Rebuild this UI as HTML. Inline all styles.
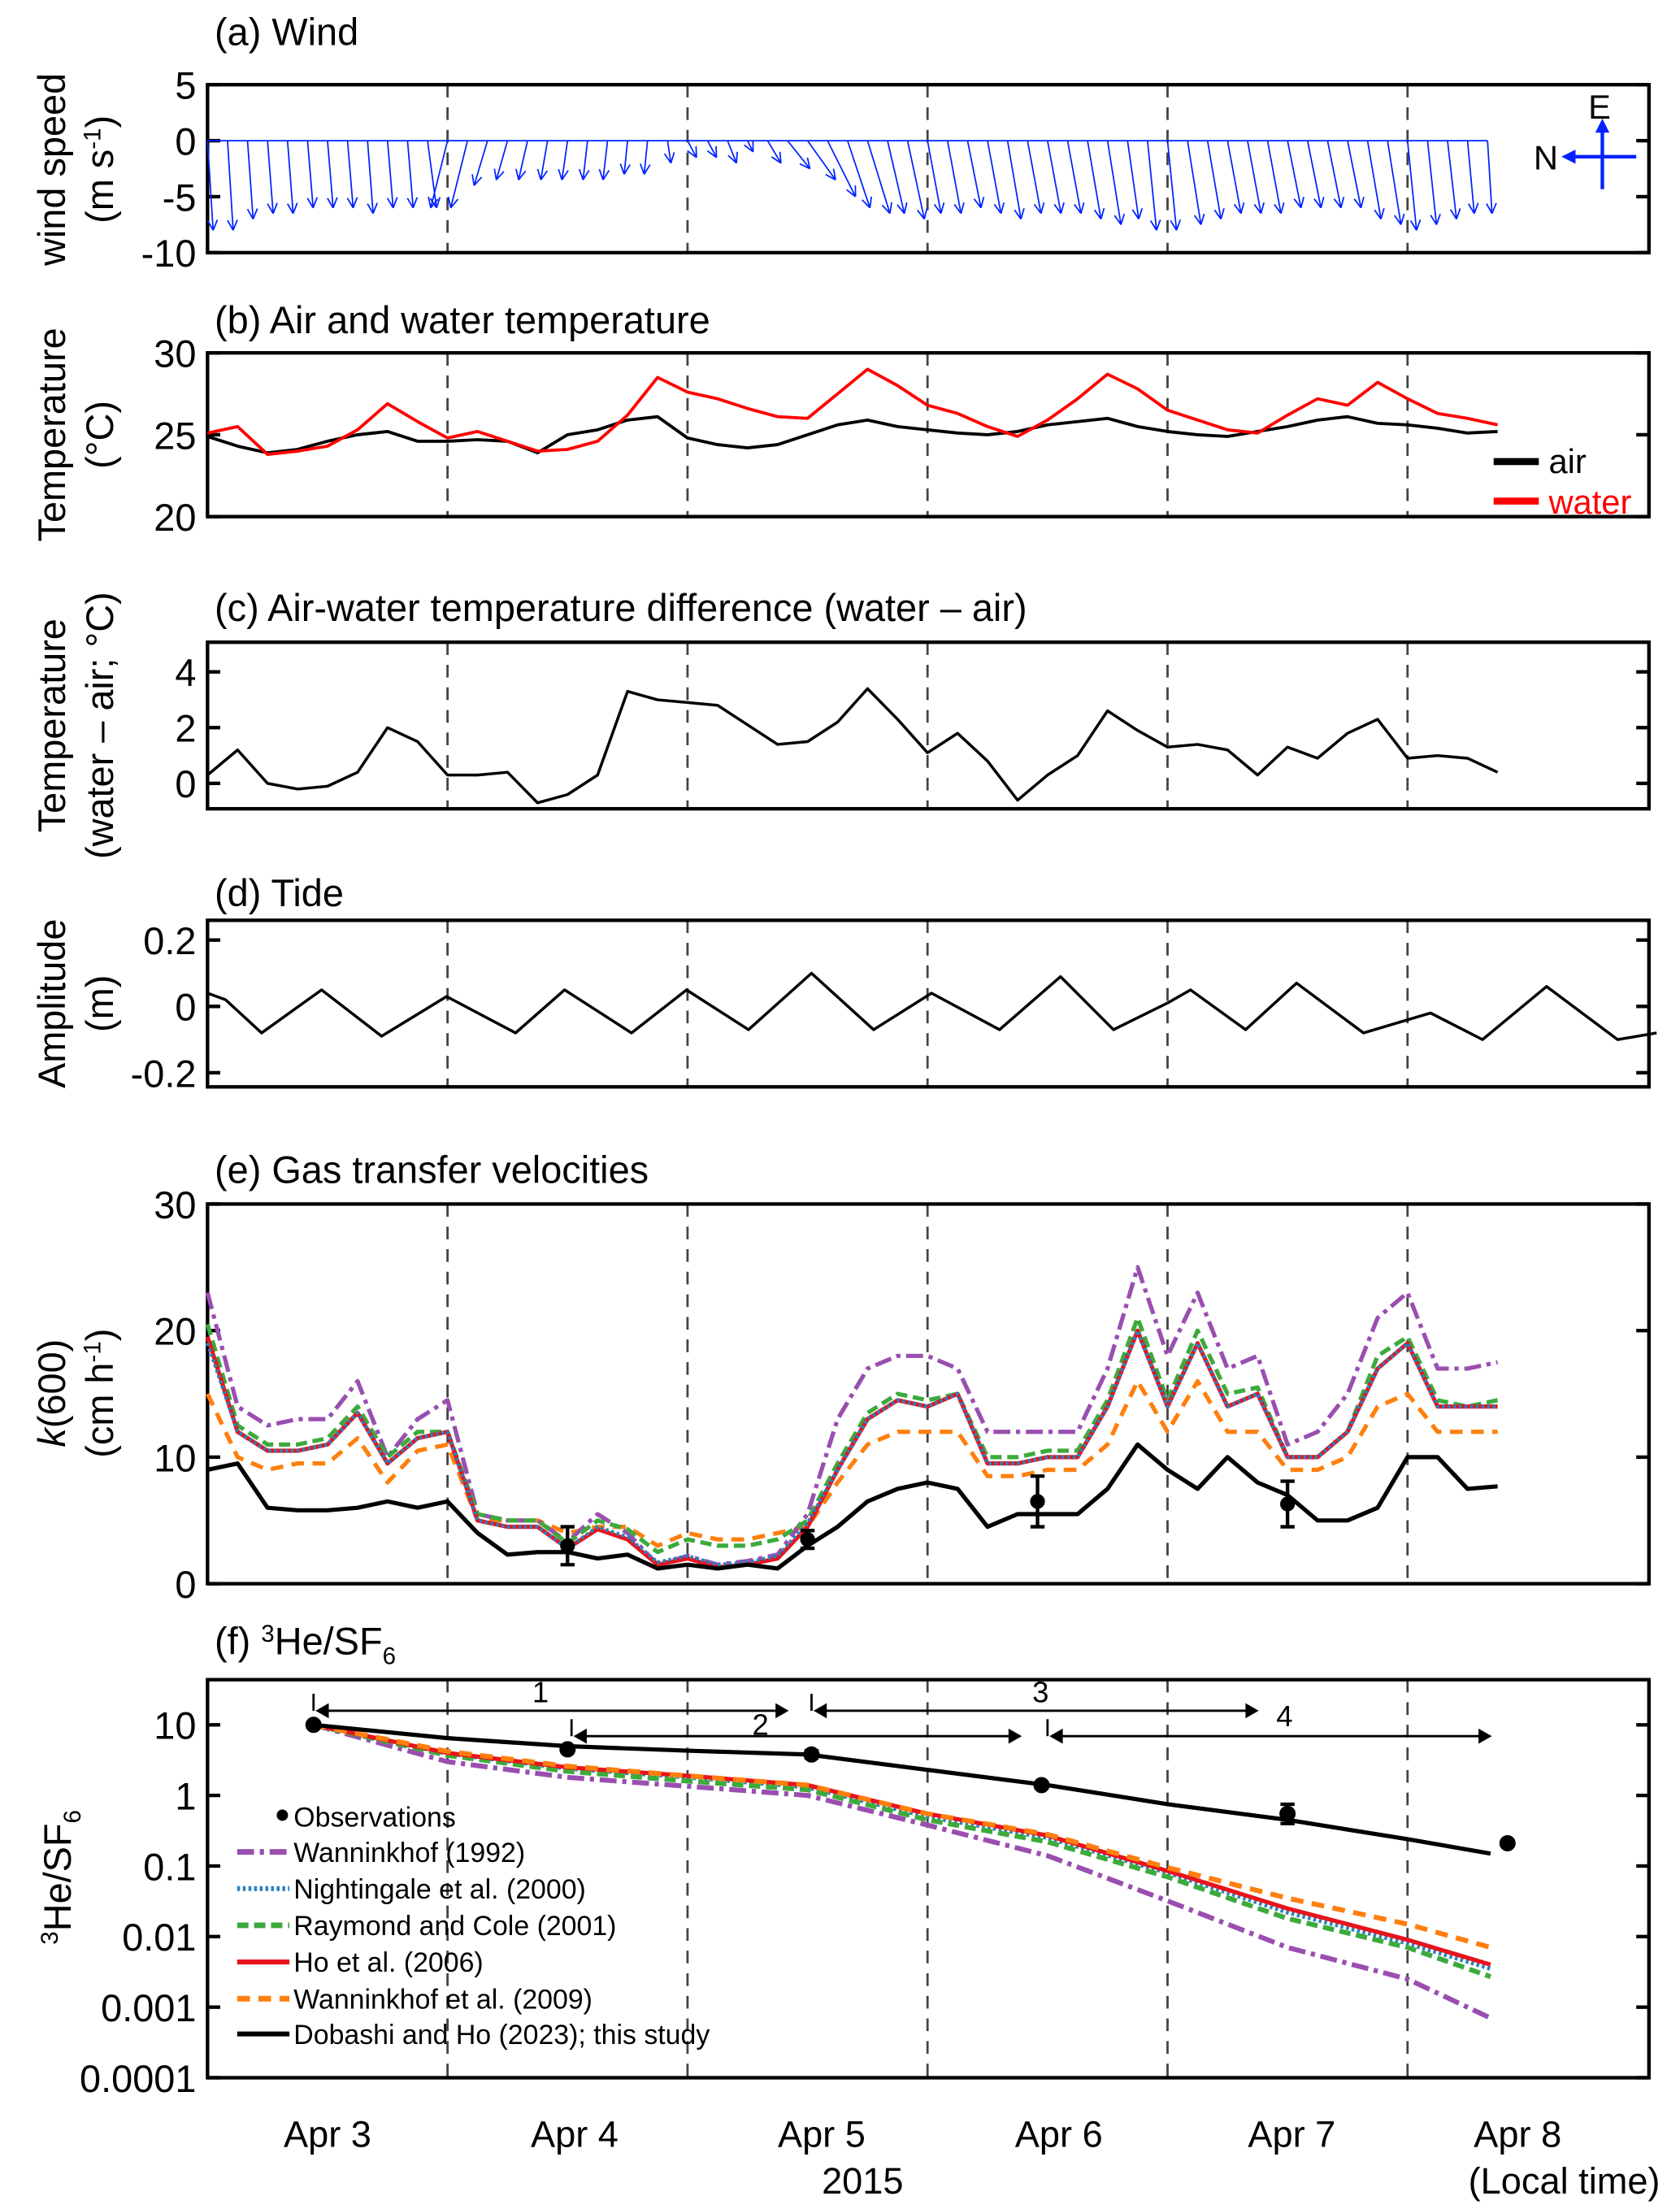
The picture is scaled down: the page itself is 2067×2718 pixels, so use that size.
<!DOCTYPE html>
<html><head><meta charset="utf-8"><style>
html,body{margin:0;padding:0;background:#fff}
svg{display:block}
text{font-family:"Liberation Sans",sans-serif;fill:#000}
</style></head><body>
<svg id="fig" width="2067" height="2718" viewBox="0 0 1190 1565" preserveAspectRatio="none" xmlns="http://www.w3.org/2000/svg">
<g id="static">
  <text x="152" y="32" font-size="27">(a) Wind</text>
  <text x="152" y="236" font-size="27">(b) Air and water temperature</text>
  <text x="152" y="440" font-size="27">(c) Air-water temperature difference (water – air)</text>
  <text x="152" y="642" font-size="27">(d) Tide</text>
  <text x="152" y="838" font-size="27">(e) Gas transfer velocities</text>
  <text x="152" y="1172" font-size="27">(f) <tspan font-size="17" dy="-9">3</tspan><tspan dy="9">He/SF</tspan><tspan font-size="17" dy="7">6</tspan></text>

  <text transform="translate(46,120) rotate(-90)" text-anchor="middle" font-size="27">wind speed</text>
  <text transform="translate(80,120) rotate(-90)" text-anchor="middle" font-size="27">(m s<tspan font-size="17" dy="-9">-1</tspan><tspan dy="9">)</tspan></text>
  <text transform="translate(46,308) rotate(-90)" text-anchor="middle" font-size="27">Temperature</text>
  <text transform="translate(80,308) rotate(-90)" text-anchor="middle" font-size="27">(°C)</text>
  <text transform="translate(46,514) rotate(-90)" text-anchor="middle" font-size="27">Temperature</text>
  <text transform="translate(80,514) rotate(-90)" text-anchor="middle" font-size="27">(water – air; °C)</text>
  <text transform="translate(46,711) rotate(-90)" text-anchor="middle" font-size="27">Amplitude</text>
  <text transform="translate(80,711) rotate(-90)" text-anchor="middle" font-size="27">(m)</text>
  <text transform="translate(46,987) rotate(-90)" text-anchor="middle" font-size="27"><tspan font-style="italic">k</tspan>(600)</text>
  <text transform="translate(80,987) rotate(-90)" text-anchor="middle" font-size="27">(cm h<tspan font-size="17" dy="-9">-1</tspan><tspan dy="9">)</tspan></text>
  <text transform="translate(50,1330) rotate(-90)" text-anchor="middle" font-size="27"><tspan font-size="17" dy="-9">3</tspan><tspan dy="9">He/SF</tspan><tspan font-size="17" dy="7">6</tspan></text>

  <text x="232" y="1521" font-size="26" text-anchor="middle">Apr 3</text>
  <text x="407" y="1521" font-size="26" text-anchor="middle">Apr 4</text>
  <text x="582" y="1521" font-size="26" text-anchor="middle">Apr 5</text>
  <text x="750" y="1521" font-size="26" text-anchor="middle">Apr 6</text>
  <text x="915" y="1521" font-size="26" text-anchor="middle">Apr 7</text>
  <text x="1075" y="1521" font-size="26" text-anchor="middle">Apr 8</text>
  <text x="611" y="1554" font-size="26" text-anchor="middle">2015</text>
  <text x="1108" y="1554" font-size="26" text-anchor="middle">(Local time)</text>

  <g stroke="#0022ff" stroke-width="2.5" fill="none">
    <line x1="1159" y1="111" x2="1112" y2="111"/>
    <line x1="1135" y1="134" x2="1135" y2="90"/>
  </g>
  <polygon points="1106,111 1116,106 1116,116" fill="#0022ff"/>
  <polygon points="1135,84 1130,94 1140,94" fill="#0022ff"/>
  <text x="1133" y="84" font-size="24" text-anchor="middle">E</text>
  <text x="1095" y="120" font-size="24" text-anchor="middle">N</text>

  <line x1="1058" y1="327" x2="1090" y2="327" stroke="#000" stroke-width="5"/>
  <text x="1097" y="335" font-size="24">air</text>
  <line x1="1058" y1="355" x2="1090" y2="355" stroke="#f00" stroke-width="5"/>
  <text x="1097" y="364" font-size="24" fill="#f00" style="fill:#f00">water</text>
</g>
<g id="dyn"></g>
</svg>
<script>
// ---------- data ----------
const windHours = [0,2,4,6,8,10,12,14,16,18,20,22,24,26,28,30,32,34,36,38,40,42,44,46,48,50,52,54,56,58,60,62,64,66,68,70,72,74,76,78,80,82,84,86,88,90,92,94,96,98,100,102,104,106,108,110,112,114,116,118,120,122,124,126,128];
const windV = [-8,-8,-7,-6.5,-6.5,-6,-6,-6,-6.5,-6,-6,-6, -6,-6,-4,-3.5,-3.5,-3.5,-3.5,-3.5,-3.5,-3,-3,-2, -1.5,-1.5,-2,-1,-2,-2.5,-3.5,-5,-6,-6.5,-6.5,-7, -6.5,-6.5,-6,-6.5,-7,-6.5,-6.5,-6.5,-7,-7.5,-7,-8, -8,-7.5,-7,-6.5,-6.5,-6.5,-6,-6,-6,-6,-7,-7.5, -8,-7.5,-7,-6.5,-6.5];
const windU = [0.5,0.5,0.5,0.5,0.5,0.5,0.5,0.5,0.5,0.5,0.5,0.8, -1.5,-1.5,-1.2,-1,-0.8,-0.6,-0.5,-0.4,-0.4,-0.3,-0.3,0.3, 0.8,0.8,0.8,0.5,1.2,2,2.5,2.5,2,2,1.5,1.5, 1.2,1.2,1.2,1.2,1.2,1.2,1.2,1.2,1.2,1.2,1,0.8, 0.8,1.2,1.2,1.2,1.2,1.2,1.2,1.2,1.2,1.2,1.2,1.2, 0.8,0.8,0.8,0.6,0.4];

const hours3 = [0,3,6,9,12,15,18,21,24,27,30,33,36,39,42,45,48,51,54,57,60,63,66,69,72,75,78,81,84,87,90,93,96,99,102,105,108,111,114,117,120,123,126,129];
const waterT = [25.1,25.5,23.8,24.0,24.3,25.3,26.9,25.8,24.8,25.2,24.6,24.0,24.1,24.6,26.2,28.5,27.6,27.2,26.6,26.1,26.0,27.5,29.0,28.0,26.8,26.3,25.5,24.9,25.9,27.2,28.7,27.8,26.5,25.9,25.3,25.1,26.2,27.2,26.8,28.2,27.2,26.3,26.0,25.6];
const airT = [24.9,24.3,23.9,24.1,24.6,25.0,25.2,24.6,24.6,24.7,24.6,23.9,25.0,25.3,25.9,26.1,24.8,24.4,24.2,24.4,25.0,25.6,25.9,25.5,25.3,25.1,25.0,25.2,25.6,25.8,26.0,25.5,25.2,25.0,24.9,25.2,25.5,25.9,26.1,25.7,25.6,25.4,25.1,25.2];
const diffT = [0.3,1.2,0.0,-0.2,-0.1,0.4,2.0,1.5,0.3,0.3,0.4,-0.7,-0.4,0.3,3.3,3.0,2.9,2.8,2.1,1.4,1.5,2.2,3.4,2.3,1.1,1.8,0.8,-0.6,0.3,1.0,2.6,1.9,1.3,1.4,1.2,0.3,1.3,0.9,1.8,2.3,0.9,1.0,0.9,0.4];

const tideHours = [0,1.8,5.4,11.4,17.4,23.9,30.8,35.7,42.4,47.9,54.1,60.4,66.6,72.4,79.2,85.3,90.6,96.0,98.3,103.8,108.9,115.6,122.3,127.5,133.9,141.0,144.9];
const tideAmp = [0.04,0.02,-0.08,0.05,-0.09,0.03,-0.08,0.05,-0.08,0.05,-0.07,0.1,-0.07,0.04,-0.07,0.09,-0.07,0.01,0.05,-0.07,0.07,-0.08,-0.02,-0.1,0.06,-0.1,-0.08];

const kDobashi = [9,9.5,6,5.8,5.8,6,6.5,6,6.5,4,2.3,2.5,2.5,2,2.3,1.2,1.5,1.2,1.5,1.2,3,4.5,6.5,7.5,8,7.5,4.5,5.5,5.5,5.5,7.5,11,9,7.5,10,8,7,5,5,6,10,10,7.5,7.7];
const kHo = [19.5,12,10.5,10.5,11,13.5,9.5,11.5,12,5,4.5,4.5,2.8,4.3,3.5,1.5,2,1.3,1.5,2,4.5,9,13,14.5,14,15,9.5,9.5,10,10,14,20,14,19,14,15,10,10,12,17,19,14,14,14];
const kW92 = [23,14,12.5,13,13,16,10,13,14.5,5.5,5,5,3.3,5.5,4,1.5,2.2,1.5,1.8,2.3,5.5,13,17,18,18,17,12,12,12,12,17,25,18,23,17,18,11,12,15,21,23,17,17,17.5];
const kN00 = [19,12,10.5,10.5,11,13.5,9.5,11.5,12,5,4.5,4.5,2.8,4.5,3.7,1.7,2.2,1.5,1.7,2.2,4.8,9,13,14.5,14,15,9.5,9.5,10,10,14,20,14,19,14,15,10,10,12,17,19,14,14,14];
const kRC01 = [20.5,12.5,11,11,11.5,14,10,12,12,5.5,5,5,3.2,5,4.3,2.5,3.5,3,3,3.5,5,9.5,13.5,15,14.5,15,10,10,10.5,10.5,14.5,21,14.5,20,15,15.5,10,10,12,18,19.5,14.5,14,14.5];
const kW09 = [15,10,9,9.5,9.5,11.5,8,10.5,11,5,5,5,4,4.5,4.5,3,4,3.5,3.5,4,4.5,8,11,12,12,12,8.5,8.5,9,9,11,16,12,16,12,12,9,9,10,14,15,12,12,12];
const kObsHours = [36,60,83,108];
const kObs = [3,3.5,6.5,6.3];
const kObsErr = [1.5,0.7,2,1.8];

const fHours = [10.6,24,36,48,60,72,84,96,108,120,128.3];
const rDobashi = [10,6.5,5,4.3,3.8,2.3,1.4,0.75,0.45,0.24,0.15];
const rHo = [10,4,2.5,1.9,1.4,0.55,0.27,0.085,0.025,0.009,0.004];
const rN00 = [10,3.9,2.4,1.8,1.3,0.5,0.25,0.08,0.022,0.008,0.0035];
const rRC01 = [10,3.7,2.2,1.6,1.2,0.45,0.22,0.07,0.018,0.007,0.0027];
const rW09 = [10,4.2,2.6,1.9,1.4,0.55,0.28,0.095,0.035,0.015,0.007];
const rW92 = [10,3.0,1.8,1.35,1.0,0.38,0.14,0.032,0.007,0.0025,0.0007];
const obsHours = [10.6,36,60.4,83.4,108,130];
const obsRatio = [10,4.5,3.8,1.4,0.55,0.21];
const obsLo = [10,4.1,3.4,1.3,0.4,0.21];
const obsHi = [10,5.0,4.3,1.5,0.75,0.21];

const legendNames = ["Observations","Wanninkhof (1992)","Nightingale et al. (2000)","Raymond and Cole (2001)","Ho et al. (2006)","Wanninkhof et al. (2009)","Dobashi and Ho (2023); this study"];

// ---------- helpers ----------
const NS = "http://www.w3.org/2000/svg";
const dyn = document.getElementById('dyn');
const X0 = 147, X1 = 1168, PXH = 170/24;
const xs = h => X0 + h*PXH;
function mk(tag, attrs, parent){
  const e = document.createElementNS(NS, tag);
  for (const k in attrs) e.setAttribute(k, attrs[k]);
  (parent||dyn).appendChild(e);
  return e;
}
function linScale(d0,d1,r0,r1){return v => r0 + (v-d0)/(d1-d0)*(r1-r0);}
function logScale(d0,d1,r0,r1){return v => r0 + (Math.log10(v)-Math.log10(d0))/(Math.log10(d1)-Math.log10(d0))*(r1-r0);}

function panel(name, top, bottom, ys, ticks, labels){
  const g = mk('g', {});
  
  
  for (let d=1; d<=5; d++){
    const x = xs(24*d);
    const l = mk('line', {x1:x,x2:x,y1:top,y2:bottom,stroke:'#444','stroke-width':1.6,'stroke-dasharray':'9,7'}, g);
    
    
  }
  ticks.forEach((t,i)=>{
    const y = ys(t);
    mk('line',{x1:X0,x2:X0+9,y1:y,y2:y,stroke:'#000','stroke-width':2.5},g);
    mk('line',{x1:X1-9,x2:X1,y1:y,y2:y,stroke:'#000','stroke-width':2.5},g);
    const tx = mk('text',{x:139,y:y+10,'font-size':27,'text-anchor':'end'},g);
    tx.textContent = labels[i];
    
    
  });
  const r = mk('rect',{x:X0,y:top,width:X1-X0,height:bottom-top,fill:'none',stroke:'#000','stroke-width':2.5},g);
  
  
  return g;
}
function line(g, hrs, vals, ys, color, width, dash, name){
  const p = hrs.map((h,i)=>xs(h).toFixed(1)+','+ys(vals[i]).toFixed(1)).join(' ');
  const a = {points:p,fill:'none',stroke:color,'stroke-width':width,'stroke-linejoin':'round'};
  if (dash) a['stroke-dasharray'] = dash;
  const e = mk('polyline', a, g);
  
  
  return e;
}

// ---------- (a) wind ----------
const yA = linScale(5,-10,60,179);
const gA = panel('a',60,179,yA,[5,0,-5,-10],['5','0','-5','-10']);
mk('line',{x1:X0,x2:xs(128),y1:yA(0),y2:yA(0),stroke:'#0022ff','stroke-width':1},gA);
const pxPerUnit = yA(0)-yA(1);
windHours.forEach((h,i)=>{
  const x0 = xs(h), y0 = yA(0);
  const x1 = x0 + windU[i]*pxPerUnit, y1 = yA(windV[i]);
  const ar = mk('g',{stroke:'#0022ff','stroke-width':1,fill:'none'},gA);
  
  
  mk('line',{x1:x0,y1:y0,x2:x1,y2:y1},ar);
  const ang = Math.atan2(y1-y0,x1-x0);
  [0.45,-0.45].forEach(s=>{
    mk('line',{x1:x1,y1:y1,x2:x1-8*Math.cos(ang+s),y2:y1-8*Math.sin(ang+s)},ar);
  });
});

// ---------- (b) temperature ----------
const yB = linScale(30,20,250,366);
const gB = panel('b',250,366,yB,[30,25,20],['30','25','20']);
line(gB,hours3,airT,yB,'#000',2.2,null,'air-temperature-line');
line(gB,hours3,waterT,yB,'#f00',2.2,null,'water-temperature-line');

// ---------- (c) diff ----------
const yC = linScale(4,0,476,555);
const gC = panel('c',455,573,yC,[4,2,0],['4','2','0']);
line(gC,hours3,diffT,yC,'#000',2,null,'temperature-difference-line');

// ---------- (d) tide ----------
const yD = linScale(0.2,-0.2,666,760);
const gD = panel('d',652,770,yD,[0.2,0,-0.2],['0.2','0','-0.2']);
line(gD,tideHours,tideAmp,yD,'#000',2,null,'tide-line');

// ---------- (e) k600 ----------
const yE = linScale(30,0,853,1122);
const gE = panel('e',853,1122,yE,[30,20,10,0],['30','20','10','0']);
line(gE,hours3,kW09,yE,'#ff7f0e',3,'9,6','k-wanninkhof-2009');
line(gE,hours3,kW92,yE,'#9a4fb0',3,'12,4,3,4','k-wanninkhof-1992');
line(gE,hours3,kRC01,yE,'#3caa3c',3,'8,4','k-raymond-cole-2001');
line(gE,hours3,kHo,yE,'#e8141c',3,null,'k-ho-2006');
line(gE,hours3,kN00,yE,'#2a7fc0',2.5,'2,2','k-nightingale-2000');
line(gE,hours3,kDobashi,yE,'#000',3,null,'k-dobashi-ho-2023');
kObsHours.forEach((h,i)=>{
  const x = xs(h);
  const g = mk('g',{stroke:'#000','stroke-width':2.5},gE);
  
  
  mk('line',{x1:x,x2:x,y1:yE(kObs[i]-kObsErr[i]),y2:yE(kObs[i]+kObsErr[i])},g);
  mk('line',{x1:x-5,x2:x+5,y1:yE(kObs[i]-kObsErr[i]),y2:yE(kObs[i]-kObsErr[i])},g);
  mk('line',{x1:x-5,x2:x+5,y1:yE(kObs[i]+kObsErr[i]),y2:yE(kObs[i]+kObsErr[i])},g);
  mk('circle',{cx:x,cy:yE(kObs[i]),r:4,fill:'#000'},g);
});

// ---------- (f) ratio ----------
const yF = logScale(10,0.0001,1222,1472);
const gF = panel('f',1190,1472,yF,[10,1,0.1,0.01,0.001,0.0001],['10','1','0.1','0.01','0.001','0.0001']);
const fStyles = [
  [rW92,'#9a4fb0',3.5,'12,4,3,4','ratio-wanninkhof-1992'],
  [rN00,'#2a7fc0',3,'2,2','ratio-nightingale-2000'],
  [rRC01,'#3caa3c',3.5,'8,4','ratio-raymond-cole-2001'],
  [rHo,'#e8141c',3,null,'ratio-ho-2006'],
  [rW09,'#ff7f0e',3.5,'9,6','ratio-wanninkhof-2009'],
  [rDobashi,'#000',3,null,'ratio-dobashi-ho-2023']
];
fStyles.forEach(s=>line(gF,fHours,s[0],yF,s[1],s[2],s[3],s[4]));
obsHours.forEach((h,i)=>{
  const x = xs(h);
  const g = mk('g',{stroke:'#000','stroke-width':2.5},gF);
  
  
  if (obsHi[i] > obsLo[i]) {
    mk('line',{x1:x,x2:x,y1:yF(obsLo[i]),y2:yF(obsHi[i])},g);
    mk('line',{x1:x-5,x2:x+5,y1:yF(obsLo[i]),y2:yF(obsLo[i])},g);
    mk('line',{x1:x-5,x2:x+5,y1:yF(obsHi[i]),y2:yF(obsHi[i])},g);
  }
  mk('circle',{cx:x,cy:yF(obsRatio[i]),r:4.5,fill:'#000'},g);
});
const intervals = [[10.6,57.9,1212,'1',1200],[36.4,81.2,1230,'2',1223],[60.4,104.9,1212,'3',1200],[84,128.2,1230,'4',1217]];
const labelX = [33.3,55.3,83.3,107.7];
intervals.forEach((iv,i)=>{
  const g = mk('g',{stroke:'#000','stroke-width':1.6,fill:'#000'},gF);
  
  
  const a = xs(iv[0]), b = xs(iv[1]), y = iv[2];
  mk('line',{x1:a,x2:a,y1:y-12,y2:y},g);
  mk('line',{x1:a+5,x2:b,y1:y,y2:y},g);
  mk('polygon',{points:`${a+3},${y} ${a+10},${y-4} ${a+10},${y+4}`},g);
  mk('polygon',{points:`${b},${y} ${b-7},${y-4} ${b-7},${y+4}`},g);
  const t = mk('text',{x:xs(labelX[i]),y:iv[4]+6,'font-size':21,'text-anchor':'middle',stroke:'none'},g);
  t.textContent = iv[3];
});
const legY = [1287,1312,1338,1364,1390,1416,1441];
legendNames.forEach((n,i)=>{
  const g = mk('g',{},gF);
  
  
  if (i===0) mk('circle',{cx:200,cy:legY[i]-1,r:4,fill:'#000'},g);
  else { const s = fStyles[i-1]; const a={x1:168,x2:205,y1:legY[i],y2:legY[i],stroke:s[1],'stroke-width':s[2]+0.5}; if(s[3]) a['stroke-dasharray']=s[3]; mk('line',a,g); }
  const t = mk('text',{x:208,y:legY[i]+7,'font-size':19.5},g);
  t.textContent = n;
});
</script>
</body></html>
